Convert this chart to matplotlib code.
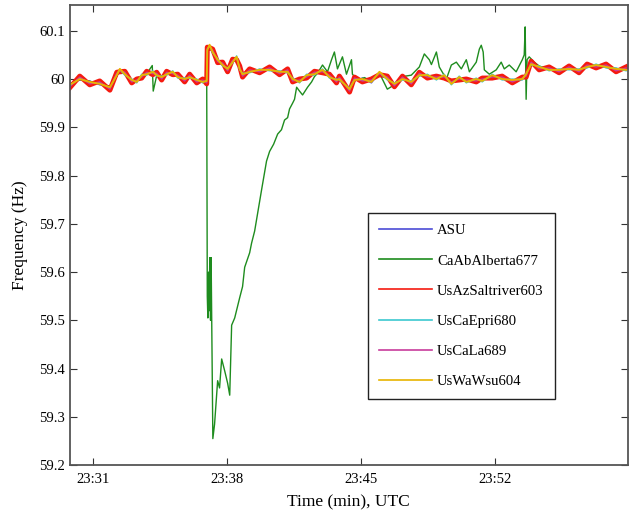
import matplotlib.pyplot as plt

# minutes after 23:00 UTC
t_band = [29.80, 30.32, 30.84, 31.36, 31.89, 32.25, 32.41, 32.67, 33.03, 33.29,
          33.55, 33.81, 34.13, 34.33, 34.59, 34.85, 35.17, 35.43, 35.79, 36.05,
          36.42, 36.73, 36.94, 36.97, 37.09, 37.25, 37.51, 37.77, 38.03, 38.29,
          38.50, 38.66, 38.81, 39.18, 39.70, 40.22, 40.74, 41.16, 41.42, 41.78,
          42.15, 42.56, 42.98, 43.34, 43.71, 43.86, 44.39, 44.65, 45.06, 45.53,
          45.95, 46.36, 46.73, 47.15, 47.61, 48.03, 48.45, 48.92, 49.33, 49.70,
          50.11, 50.48, 51.00, 51.31, 51.83, 52.35, 52.88, 53.40, 53.60, 53.86,
          54.28, 54.80, 55.32, 55.84, 56.36, 56.78, 57.25, 57.77, 58.29, 58.81]

wsu604 = [59.988, 60.000, 59.994, 59.990, 59.983, 60.008, 60.021, 60.010, 59.998, 59.994,
          60.008, 60.010, 60.015, 60.008, 60.004, 60.010, 60.015, 60.004, 60.000, 60.004,
          59.998, 59.994, 59.996, 60.060, 60.071, 60.056, 60.040, 60.029, 60.021, 60.035,
          60.046, 60.021, 60.010, 60.015, 60.019, 60.019, 60.015, 60.015, 60.000, 59.994,
          60.008, 60.010, 60.019, 60.004, 59.998, 60.000, 59.979, 59.998, 60.000, 59.994,
          60.015, 60.000, 59.990, 60.000, 59.994, 60.008, 60.008, 60.000, 60.008, 59.990,
          60.004, 59.994, 60.000, 59.996, 60.008, 60.000, 59.998, 60.000, 60.010, 60.031,
          60.025, 60.019, 60.019, 60.021, 60.019, 60.025, 60.029, 60.025, 60.021, 60.019]

saltriver603 = [59.982, 60.006, 59.988, 59.996, 59.977, 60.014, 60.015, 60.016, 59.992, 60.000,
                60.002, 60.016, 60.009, 60.014, 59.998, 60.016, 60.009, 60.010, 59.994, 60.010,
                59.992, 60.000, 59.990, 60.066, 60.065, 60.062, 60.034, 60.035, 60.015, 60.041,
                60.040, 60.027, 60.004, 60.021, 60.013, 60.025, 60.009, 60.021, 59.994, 60.000,
                60.002, 60.016, 60.013, 60.010, 59.992, 60.006, 59.973, 60.004, 59.994, 60.000,
                60.009, 60.006, 59.984, 60.006, 59.988, 60.014, 60.002, 60.006, 60.002, 59.996,
                59.998, 60.000, 59.994, 60.002, 60.002, 60.006, 59.992, 60.004, 60.004, 60.037,
                60.019, 60.025, 60.013, 60.027, 60.013, 60.031, 60.023, 60.031, 60.015, 60.025]

asu = [59.990, 59.998, 59.996, 59.988, 59.985, 60.006, 60.019, 60.012, 59.996, 59.996,
       60.006, 60.012, 60.013, 60.010, 60.002, 60.012, 60.013, 60.006, 59.998, 60.006,
       59.996, 59.996, 59.994, 60.058, 60.069, 60.058, 60.038, 60.031, 60.019, 60.037,
       60.044, 60.023, 60.008, 60.017, 60.017, 60.021, 60.013, 60.017, 59.998, 59.996,
       60.006, 60.012, 60.017, 60.006, 59.996, 60.002, 59.981, 59.996, 60.002, 59.992,
       60.013, 60.002, 59.988, 60.002, 59.992, 60.010, 60.006, 60.002, 60.006, 59.992,
       60.002, 59.996, 59.998, 59.998, 60.006, 60.002, 59.996, 60.002, 60.008, 60.033,
       60.023, 60.021, 60.017, 60.023, 60.017, 60.027, 60.027, 60.027, 60.019, 60.021]

epri680 = [59.986, 60.002, 59.992, 59.992, 59.981, 60.010, 60.019, 60.008, 60.000, 59.992,
           60.010, 60.008, 60.017, 60.006, 60.006, 60.008, 60.017, 60.002, 60.002, 60.002,
           60.000, 59.992, 59.998, 60.062, 60.069, 60.054, 60.042, 60.027, 60.023, 60.033,
           60.048, 60.019, 60.012, 60.013, 60.021, 60.017, 60.017, 60.013, 60.002, 59.992,
           60.010, 60.008, 60.021, 60.002, 60.000, 59.998, 59.981, 60.000, 59.998, 59.996,
           60.013, 59.998, 59.992, 59.998, 59.996, 60.006, 60.010, 59.998, 60.010, 59.988,
           60.006, 59.992, 60.002, 59.994, 60.010, 59.998, 60.000, 59.998, 60.012, 60.029,
           60.027, 60.017, 60.021, 60.019, 60.021, 60.023, 60.031, 60.023, 60.023, 60.017]

la689 = [59.984, 60.004, 59.990, 59.994, 59.979, 60.012, 60.017, 60.014, 59.994, 59.998,
         60.004, 60.014, 60.011, 60.012, 60.000, 60.014, 60.011, 60.008, 59.996, 60.008,
         59.994, 59.998, 59.992, 60.064, 60.067, 60.060, 60.036, 60.033, 60.017, 60.039,
         60.042, 60.025, 60.006, 60.019, 60.015, 60.023, 60.011, 60.019, 59.996, 59.998,
         60.004, 60.014, 60.015, 60.008, 59.994, 60.004, 59.975, 60.002, 59.996, 59.998,
         60.011, 60.004, 59.986, 60.004, 59.990, 60.012, 60.004, 60.004, 60.004, 59.994,
         60.000, 59.998, 59.996, 60.000, 60.004, 60.004, 59.994, 60.002, 60.006, 60.035,
         60.021, 60.023, 60.015, 60.025, 60.015, 60.029, 60.025, 60.029, 60.017, 60.023]

t_alberta = [29.80, 30.32, 30.84, 31.36, 31.89, 32.25, 32.41, 32.67, 33.03, 33.29,
             33.55, 33.81, 34.10, 34.15, 34.33, 34.59, 34.85, 35.17, 35.43, 35.79,
             36.05, 36.42, 36.73, 36.94, 36.97, 37.00, 37.04, 37.07, 37.10, 37.14,
             37.17, 37.26, 37.35, 37.51, 37.61, 37.72, 37.88, 38.03, 38.14, 38.24,
             38.40, 38.66, 38.81, 38.92, 39.18, 39.28, 39.44, 39.80, 40.06, 40.22,
             40.43, 40.64, 40.84, 41.00, 41.16, 41.26, 41.42, 41.52, 41.63, 41.78,
             41.94, 42.20, 42.41, 42.56, 42.72, 42.98, 43.24, 43.45, 43.60, 43.76,
             44.02, 44.23, 44.49, 44.54, 44.80, 45.17, 45.53, 45.95, 46.36, 46.73,
             47.15, 47.61, 48.03, 48.29, 48.55, 48.66, 48.92, 49.07, 49.44, 49.70,
             49.96, 50.22, 50.48, 50.64, 51.00, 51.16, 51.26, 51.36, 51.42, 51.68,
             52.04, 52.30, 52.46, 52.72, 53.08, 53.40, 53.50, 53.55, 53.60, 53.65,
             53.76, 54.02, 54.28, 54.80, 55.32, 55.84, 56.36, 56.78, 57.25, 57.77,
             58.29, 58.81]

alberta677 = [59.990, 59.999, 59.995, 59.991, 59.985, 60.006, 60.019, 60.011, 59.997, 59.995,
              60.006, 60.011, 60.028, 59.975, 60.007, 60.003, 60.011, 60.014, 60.004, 59.999,
              60.004, 59.997, 59.995, 59.998, 59.550, 59.505, 59.600, 59.520, 59.630, 59.500,
              59.630, 59.255, 59.285, 59.375, 59.360, 59.420, 59.395, 59.370, 59.345, 59.490,
              59.505, 59.547, 59.570, 59.610, 59.640, 59.660, 59.685, 59.770, 59.830, 59.850,
              59.865, 59.886, 59.895, 59.915, 59.920, 59.938, 59.950, 59.958, 59.983, 59.975,
              59.967, 59.983, 59.994, 60.005, 60.012, 60.029, 60.015, 60.040, 60.056, 60.021,
              60.046, 60.010, 60.040, 60.010, 59.998, 60.003, 59.995, 60.012, 59.979, 59.988,
              60.005, 60.008, 60.025, 60.052, 60.040, 60.030, 60.056, 60.025, 60.000, 60.029,
              60.035, 60.021, 60.040, 60.015, 60.035, 60.062, 60.070, 60.056, 60.019, 60.010,
              60.019, 60.035, 60.021, 60.029, 60.015, 60.040, 60.050, 60.108, 59.958, 60.040,
              60.046, 60.035, 60.027, 60.020, 60.018, 60.022, 60.018, 60.026, 60.028, 60.024,
              60.022, 60.018]

tick_pos = [31, 38, 45, 52]
tick_lab = ["23:31", "23:38", "23:45", "23:52"]

plt.rcParams['font.family'] = ['Liberation Serif', 'DejaVu Serif']

fig = plt.figure(figsize=(6.29, 5.18), dpi=100)
ax = fig.add_axes([0.111, 0.102, 0.887, 0.888])

ax.plot(t_band, asu, color="#4b4bd6", lw=1.0, label="ASU")
ax.plot(t_alberta, alberta677, color="#1e8c1e", lw=1.0, label="CaAbAlberta677")
ax.plot(t_band, saltriver603, color="#f51a10", lw=3.6, label="UsAzSaltriver603")
ax.plot(t_band, epri680, color="#3cc8d0", lw=1.0, label="UsCaEpri680")
ax.plot(t_band, la689, color="#c83c9c", lw=1.0, label="UsCaLa689")
ax.plot(t_band, wsu604, color="#e8b400", lw=1.4, label="UsWaWsu604")

ax.set_xlim(29.8, 58.9)
ax.set_ylim(59.2, 60.153)
ax.set_xticks(tick_pos)
ax.set_xticklabels(tick_lab)
ax.set_yticks([59.2, 59.3, 59.4, 59.5, 59.6, 59.7, 59.8, 59.9, 60.0, 60.1])
ax.set_yticklabels(["59.2", "59.3", "59.4", "59.5", "59.6", "59.7", "59.8", "59.9", "60", "60.1"])
ax.tick_params(direction="in", top=True, right=True, labelsize=10.5, length=5, color="#333333")
ax.tick_params(axis="x", pad=6)
for s in ax.spines.values():
    s.set_color("#555555")
    s.set_linewidth(1.3)

ax.set_xlabel("Time (min), UTC", fontsize=12.5, labelpad=6)
ax.set_ylabel("Frequency (Hz)", fontsize=12.5, labelpad=8)

leg = ax.legend(loc="upper left", bbox_to_anchor=(0.534, 0.548), fontsize=10.6,
                handlelength=3.6, handletextpad=0.35, labelspacing=1.14,
                fancybox=False, framealpha=1, borderpad=0.75, borderaxespad=0)
leg.get_frame().set_edgecolor("#222222")
leg.get_frame().set_linewidth(1.0)
for ln in leg.get_lines():
    ln.set_linewidth(1.2)

plt.savefig("out.png", dpi=100)
